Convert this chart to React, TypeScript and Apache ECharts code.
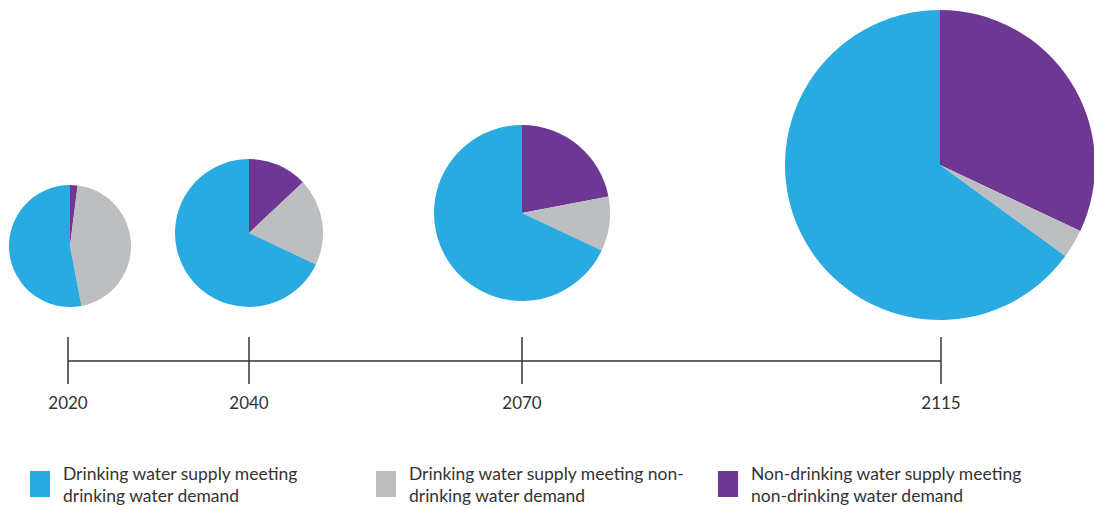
import React, { useEffect, useRef } from "react";
import * as echarts from "echarts";

// ---- Data ----
const years = ["2020", "2040", "2070", "2115"];
const categories = [
  "Drinking water supply meeting drinking water demand",
  "Drinking water supply meeting non-drinking water demand",
  "Non-drinking water supply meeting non-drinking water demand",
];
const legendLabels = [
  "Drinking water supply meeting\ndrinking water demand",
  "Drinking water supply meeting non-\ndrinking water demand",
  "Non-drinking water supply meeting\nnon-drinking water demand",
];
// shares (%) per year
const drinkingForDrinking = [53, 68, 68, 65];
const drinkingForNonDrinking = [45, 19, 10, 3];
const nonDrinkingForNonDrinking = [2, 13, 22, 32];

// ---- Layout / style ----
const colors = ["#29ABE2", "#BDBEC0", "#6E3794"];
const pieCenterX = [70, 249, 522, 940];
const pieCenterY = [246, 233, 213, 165];
const pieRadius = [61, 74, 88, 155];
const tickX = [68, 249, 522, 941];
const lineY = 361;
const tickTop = 337;
const tickBottom = 384;
const yearLabelY = 402;
const legendLeft = [30, 376, 718];
const legendTop = 462;
const textColor = "#333333";
const fontFamily = "Lato";

export default function App() {
  const ref = useRef<HTMLDivElement>(null);

  useEffect(() => {
    if (!ref.current) return;
    const chart = echarts.init(ref.current, undefined, { renderer: "svg" });

    const series = years.map((y, i) => ({
      type: "pie",
      name: y,
      center: [pieCenterX[i], pieCenterY[i]],
      radius: [0, pieRadius[i]],
      startAngle: 90,
      clockwise: true,
      silent: true,
      label: { show: false },
      labelLine: { show: false },
      emphasis: { disabled: true },
      itemStyle: { borderWidth: 0 },
      data: [
        { name: categories[2], value: nonDrinkingForNonDrinking[i], itemStyle: { color: colors[2] } },
        { name: categories[1], value: drinkingForNonDrinking[i], itemStyle: { color: colors[1] } },
        { name: categories[0], value: drinkingForDrinking[i], itemStyle: { color: colors[0] } },
      ],
    }));

    const graphic: any[] = [
      {
        type: "line",
        shape: { x1: tickX[0], y1: lineY, x2: tickX[tickX.length - 1], y2: lineY },
        style: { stroke: textColor, lineWidth: 1.5 },
        silent: true,
      },
    ];
    years.forEach((y, i) => {
      graphic.push({
        type: "line",
        shape: { x1: tickX[i], y1: tickTop, x2: tickX[i], y2: tickBottom },
        style: { stroke: textColor, lineWidth: 1.5 },
        silent: true,
      });
      graphic.push({
        type: "text",
        x: tickX[i],
        y: yearLabelY,
        style: {
          text: y,
          align: "center",
          verticalAlign: "middle",
          fill: textColor,
          fontSize: 17,
          fontFamily,
        },
        silent: true,
      });
    });

    chart.setOption({
      animation: false,
      backgroundColor: "#ffffff",
      legend: categories.map((c, i) => ({
        data: [c],
        left: legendLeft[i],
        top: legendTop,
        padding: 0,
        icon: "rect",
        itemWidth: 20,
        itemHeight: 26,
        selectedMode: false,
        formatter: () => legendLabels[i],
        textStyle: {
          fontFamily,
          fontSize: 17.5,
          color: textColor,
          lineHeight: 22,
          padding: [0, 0, 0, 8],
        },
      })),
      graphic,
      series,
    });

    return () => chart.dispose();
  }, []);

  return (
    <div
      ref={ref}
      style={{ position: "fixed", left: 0, top: 0, width: 1094, height: 509 }}
    />
  );
}
